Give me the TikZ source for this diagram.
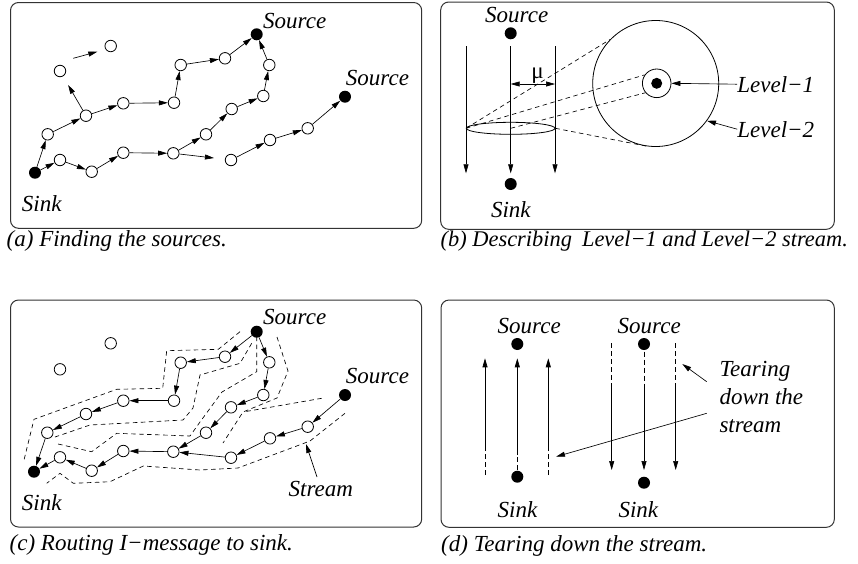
\documentclass[tikz,border=0pt]{standalone}
\usepackage{fontspec}
\setmainfont{Liberation Serif}
\usetikzlibrary{arrows.meta,shapes.geometric}
\begin{document}
\begin{tikzpicture}[x=1pt,y=-1pt,
  every node/.style={font=\fontsize{23}{27.8}\selectfont\itshape},
  wn/.style={circle,draw,line width=0.8pt,fill=white,inner sep=0pt,minimum size=11.5pt},
  bn/.style={circle,fill=black,inner sep=0pt,minimum size=12pt},
  lbl/.style={inner sep=0pt},
  tip/.style={-{Triangle[length=9pt,width=5pt]}},
  edge/.style={line width=0.65pt,tip},
  panel/.style={draw=black!80,line width=1pt,rounded corners=8pt},
  strm/.style={line width=0.65pt,dash pattern=on 4.5pt off 3.5pt},
  tear/.style={line width=0.65pt,dash pattern=on 5pt off 3pt},
  ]
\useasboundingbox (0,0) rectangle (858,563);

% ---------------- panel boxes
\draw[panel] (10.5,2.5) rectangle (421.7,228.3);
\draw[panel] (440.7,2) rectangle (834.3,229.3);
\draw[panel] (10.5,300) rectangle (421.7,527);
\draw[panel] (441,300) rectangle (834.3,527.3);

% ---------------- captions
\node[lbl,anchor=west] (capa) at (6.5,241) {(a) Finding the sources.};
\node[lbl,anchor=west,font=\fontsize{22.4}{27}\selectfont\itshape] (capb) at (440.5,241) {(b) Describing\hspace{0.45em}Level−1 and Level−2 stream.};
\node[lbl,anchor=west] (capc) at (9.5,545) {(c) Routing I−message to sink.};
\node[lbl,anchor=west] (capd) at (441,546) {(d) Tearing down the stream.};

% ================= panel (a)
\node[bn] (aS1) at (256.7,34.3) {};
\node[bn] (aS2) at (345,96.7) {};
\node[bn] (aK) at (35,172.7) {};
\node[wn] (a1) at (47.7,134.3) {};
\node[wn] (a2) at (86,115.7) {};
\node[wn] (a3) at (60,71) {};
\node[wn] (a4) at (110.7,46) {};
\node[wn] (a5) at (123.3,103.3) {};
\node[wn] (a6) at (174,102.7) {};
\node[wn] (a7) at (180.7,65) {};
\node[wn] (a8) at (225,58.3) {};
\node[wn] (a9) at (269.3,65) {};
\node[wn] (a10) at (263.3,96) {};
\node[wn] (a11) at (231.7,109) {};
\node[wn] (a12) at (206,134.3) {};
\node[wn] (a13) at (173.3,153.3) {};
\node[wn] (a14) at (123.3,152.7) {};
\node[wn] (a15) at (91.7,171.7) {};
\node[wn] (a16) at (60,160) {};
\node[wn] (a17) at (231,160) {};
\node[wn] (a18) at (270,140) {};
\node[wn] (a19) at (307.7,128.3) {};
\coordinate (af1) at (73.3,58.3);
\coordinate (af2) at (97.3,51.7);

\draw[edge] (aK) -- (a1);
\draw[edge] (a1) -- (a2);
\draw[edge] (a2) -- (a5);
\draw[edge] (a5) -- (a6);
\draw[edge] (a6) -- (a7);
\draw[edge] (a7) -- (a8);
\draw[edge] (a8) -- (aS1);
\draw[edge,shorten >=10pt] (a2) -- (a3);
\draw[edge] (af1) -- (af2);
\draw[edge] (aK) -- (a16);
\draw[edge] (a16) -- (a15);
\draw[edge] (a15) -- (a14);
\draw[edge] (a14) -- (a13);
\draw[edge] (a13) -- (a12);
\draw[edge] (a12) -- (a11);
\draw[edge] (a11) -- (a10);
\draw[edge] (a10) -- (a9);
\draw[edge] (a9) -- (aS1);
\draw[edge,shorten >=11pt] (a13) -- (a17);
\draw[edge] (a17) -- (a18);
\draw[edge] (a18) -- (a19);
\draw[edge] (a19) -- (aS2);

\node[lbl] (laS1) at (294.7,20.8) {Source};
\node[lbl] (laS2) at (377.5,78.3) {Source};
\node[lbl] (laK) at (41.7,204) {Sink};

% ================= panel (b)
\node[bn] (bS) at (510.7,33.3) {};
\node[bn] (bK) at (510.7,184) {};
\node[lbl] (lbS) at (516.7,15) {Source};
\node[lbl] (lbK) at (510.8,209.2) {Sink};
\coordinate (b1t) at (466,46);   \coordinate (b1b) at (466,173.3);
\coordinate (b2t) at (510.7,46); \coordinate (b2b) at (510.7,173.3);
\coordinate (b3t) at (555,46);   \coordinate (b3b) at (555,173.3);
\draw[edge] (b1t) -- (b1b);
\draw[edge] (b2t) -- (b2b);
\draw[edge] (b3t) -- (b3b);
\coordinate (mL) at (510.7,84);
\coordinate (mR) at (555,84);
\draw[line width=0.65pt,{Triangle[length=9pt,width=5pt]}-{Triangle[length=9pt,width=5pt]}] (mL) -- (mR);
\node[lbl,font=\fontsize{23}{27}\selectfont\upshape] (mu) at (537.5,76) {μ};
\node[ellipse,draw,line width=0.8pt,inner sep=0pt,minimum width=88.6pt,minimum height=12pt] (ell) at (510.7,128.3) {};
\node[circle,draw,line width=0.8pt,inner sep=0pt,minimum size=126pt] (big) at (655.7,83.5) {};
\node[circle,draw,line width=0.8pt,inner sep=0pt,minimum size=28.6pt] (sm) at (656.7,83.3) {};
\node[bn,minimum size=11pt] (bdot) at (656.7,83.3) {};
\draw[strm] (ell.west) -- (big.136);
\draw[strm] (ell.west) -- (sm.145);
\draw[strm] (ell.center) -- (sm.220);
\draw[strm] (ell.east) -- (big.263);
\node[lbl] (L1) at (775.8,84.2) {Level−1};
\node[lbl] (L2) at (775.8,129.2) {Level−2};
\draw[edge] (L1.west) -- (sm.east);
\draw[edge] (L2.west) -- (big.-36);

% ================= panel (c)
\node[bn] (cS1) at (256.7,331.7) {};
\node[bn] (cS2) at (345,395) {};
\node[bn] (cK) at (34,471.7) {};
\node[wn] (c1) at (47.3,432.7) {};
\node[wn] (c2) at (86,414) {};
\node[wn] (c3) at (60,369.3) {};
\node[wn] (c4) at (110.7,343.3) {};
\node[wn] (c5) at (123.3,400.7) {};
\node[wn] (c6) at (174,400.7) {};
\node[wn] (c7) at (180.7,362.7) {};
\node[wn] (c8) at (225,356.7) {};
\node[wn] (c9) at (269.3,362.3) {};
\node[wn] (c10) at (263.3,395) {};
\node[wn] (c11) at (231,407.3) {};
\node[wn] (c12) at (206,432.7) {};
\node[wn] (c13) at (173.3,451.7) {};
\node[wn] (c14) at (123.3,451) {};
\node[wn] (c15) at (91.7,470.7) {};
\node[wn] (c16) at (60,457.3) {};
\node[wn] (c17) at (231,457.7) {};
\node[wn] (c18) at (270,438.3) {};
\node[wn] (c19) at (307.7,426.7) {};

\draw[edge] (cS1) -- (c8);
\draw[edge] (c8) -- (c7);
\draw[edge] (c7) -- (c6);
\draw[edge] (c6) -- (c5);
\draw[edge] (c5) -- (c2);
\draw[edge] (c2) -- (c1);
\draw[edge] (c1) -- (cK);
\draw[edge] (cS1) -- (c9);
\draw[edge] (c9) -- (c10);
\draw[edge] (c10) -- (c11);
\draw[edge] (c11) -- (c12);
\draw[edge] (c12) -- (c13);
\draw[edge] (c13) -- (c14);
\draw[edge] (c14) -- (c15);
\draw[edge] (c15) -- (c16);
\draw[edge] (c16) -- (cK);
\draw[edge] (cS2) -- (c19);
\draw[edge] (c19) -- (c18);
\draw[edge] (c18) -- (c17);
\draw[edge] (c17) -- (c13);

% stream outlines
\draw[strm] (240,331.7) -- (218.3,349.3) -- (166.7,350.7) -- (162.7,388.3) -- (116.7,389.3) -- (34,419.3) -- (24,460);
\draw[strm] (251.7,343.3) -- (240,363.3) -- (200,375) -- (193,408) -- (183,420) -- (90,425) -- (55,437);
\draw[strm] (256.7,336.7) -- (256.7,371.7) -- (222,392) -- (200,422) -- (190,436) -- (116.7,433.3) -- (91.7,451.7) -- (55,443.3);
\draw[strm] (277,337) -- (288,371) -- (277,398) -- (243,412) -- (223,443);
\draw[strm] (321.7,398.3) -- (243,412);
\draw[strm] (345,413.3) -- (310,441) -- (238,468) -- (200,470) -- (143.3,466) -- (110,481.7) -- (73.3,483.3) -- (60,473.3) -- (46.7,483.3);

\node[lbl] (lcS1) at (294.7,317.5) {Source};
\node[lbl] (lcS2) at (377.5,375.8) {Source};
\node[lbl] (lcK) at (41.7,502.5) {Sink};
\node[lbl] (lstr) at (320.8,489.2) {Stream};
\coordinate (strmpt) at (306,444);
\coordinate (strmst) at (317,477);
\draw[edge] (strmst) -- (strmpt);

% ================= panel (d)
\node[bn] (dS1) at (517.3,344) {};
\node[bn] (dK1) at (517.3,476.7) {};
\node[bn] (dS2) at (644,344) {};
\node[bn] (dK2) at (644,482.7) {};
\node[lbl] (ldS1) at (529.2,325.8) {Source};
\node[lbl] (ldS2) at (649.2,325.8) {Source};
\node[lbl] (ldK1) at (517.5,509.2) {Sink};
\node[lbl] (ldK2) at (638.3,509.2) {Sink};

\foreach \i/\x in {1/485,3/548.3} {
  \coordinate (dl\i a) at (\x,475);
  \coordinate (dl\i b) at (\x,450);
  \coordinate (dl\i c) at (\x,358.3);
  \draw[tear] (dl\i a) -- (dl\i b);
  \draw[edge] (dl\i b) -- (dl\i c);
}
\coordinate (dl2a) at (517.3,470);
\coordinate (dl2b) at (517.3,455);
\coordinate (dl2c) at (517.3,358.3);
\draw[tear] (dl2a) -- (dl2b);
\draw[edge] (dl2b) -- (dl2c);

\foreach \i/\x in {1/611.7,3/675.7} {
  \coordinate (dr\i a) at (\x,343.3);
  \coordinate (dr\i b) at (\x,385);
  \coordinate (dr\i c) at (\x,470);
  \draw[tear] (dr\i a) -- (dr\i b);
  \draw[edge] (dr\i b) -- (dr\i c);
}
\coordinate (dr2a) at (644,351.7);
\coordinate (dr2b) at (644,385);
\coordinate (dr2c) at (644,470);
\draw[tear] (dr2a) -- (dr2b);
\draw[edge] (dr2b) -- (dr2c);

\node[lbl,anchor=north west,align=left] (tear) at (719.3,361.5) {Tearing\\down the\\stream};
\coordinate (t1s) at (706.7,381.7);
\coordinate (t1e) at (682.3,364);
\coordinate (t2s) at (706.7,413.3);
\coordinate (t2e) at (556,456.7);
\draw[edge] (t1s) -- (t1e);
\draw[edge] (t2s) -- (t2e);
\end{tikzpicture}
\end{document}
